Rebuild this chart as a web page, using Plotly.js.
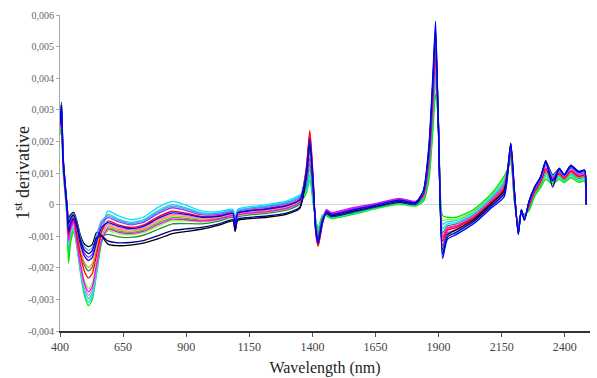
<!DOCTYPE html>
<html>
<head>
<meta charset="utf-8">
<script src="https://cdn.plot.ly/plotly-3.0.1.min.js"></script>
<style>html,body{margin:0;padding:0;background:#fff;}#chart{width:597px;height:378px;}</style>
</head>
<body>
<div id="chart"></div>
<script>
// wavelength grid (nm)
const wavelength = [400,406,412,420,428,434,442,454,466,480,
  496,513,528,545,565,590,630,680,730,790,
  845,900,960,1030,1085,1094,1104,1140,1220,1300,
  1350,1375,1390,1404,1414,1423,1440,1456,1475,1560,
  1660,1745,1808,1840,1862,1878,1888,1900,1916,1935,
  1970,2040,2110,2160,2186,2200,2216,2228,2240,2258,
  2280,2305,2325,2352,2378,2398,2424,2456,2478,2485];

// 1st derivative spectra
const s_blue = [2.53e-3,3.04e-3,1.43e-3,0.60e-3,-0.15e-3,-0.86e-3,-0.60e-3,-0.44e-3,-0.68e-3,-1.22e-3,
  -1.62e-3,-1.77e-3,-1.67e-3,-1.19e-3,-0.72e-3,-0.57e-3,-0.68e-3,-0.76e-3,-0.69e-3,-0.43e-3,
  -0.26e-3,-0.31e-3,-0.40e-3,-0.37e-3,-0.28e-3,-0.61e-3,-0.27e-3,-0.21e-3,-0.14e-3,-0.03e-3,
  0.15e-3,0.97e-3,2.09e-3,0.58e-3,-0.88e-3,-1.23e-3,-0.56e-3,-0.22e-3,-0.31e-3,-0.17e-3,
  0,0.14e-3,0.06e-3,0.45e-3,1.9e-3,4.2e-3,5.8e-3,2.2e-3,-1.7e-3,-1.1e-3,
  -0.95e-3,-0.60e-3,-0.10e-3,0.25e-3,1.89e-3,0.46e-3,-0.92e-3,-0.17e-3,-0.48e-3,0.07e-3,
  0.52e-3,0.87e-3,1.34e-3,0.75e-3,1.12e-3,0.93e-3,1.21e-3,1.02e-3,1.07e-3,0];
const s_navy = [2.62e-3,3.16e-3,1.52e-3,0.67e-3,-0.07e-3,-0.59e-3,-0.43e-3,-0.33e-3,-0.59e-3,-1.09e-3,
  -1.43e-3,-1.55e-3,-1.46e-3,-1.04e-3,-0.99e-3,-1.15e-3,-1.21e-3,-1.20e-3,-1.14e-3,-0.98e-3,
  -0.82e-3,-0.77e-3,-0.72e-3,-0.61e-3,-0.48e-3,-0.81e-3,-0.47e-3,-0.41e-3,-0.36e-3,-0.26e-3,
  -0.08e-3,0.89e-3,1.91e-3,0.50e-3,-0.83e-3,-1.17e-3,-0.53e-3,-0.26e-3,-0.35e-3,-0.21e-3,
  -0.04e-3,0.10e-3,0.03e-3,0.42e-3,1.79e-3,4.02e-3,5.57e-3,2.24e-3,-1.57e-3,-1.03e-3,
  -0.87e-3,-0.53e-3,-0.03e-3,0.35e-3,1.95e-3,0.5e-3,-0.95e-3,-0.15e-3,-0.5e-3,0.1e-3,
  0.55e-3,0.9e-3,1.4e-3,0.55e-3,1.15e-3,0.95e-3,1.25e-3,1.05e-3,1.1e-3,0];
const s_cyan = [2.38e-3,2.84e-3,1.28e-3,0.49e-3,-0.29e-3,-1.31e-3,-0.87e-3,-0.63e-3,-1.25e-3,-2.03e-3,
  -2.76e-3,-3.09e-3,-2.90e-3,-2.12e-3,-0.87e-3,-0.2e-3,-0.35e-3,-0.48e-3,-0.4e-3,-0.08e-3,
  0.1e-3,-0.02e-3,-0.2e-3,-0.22e-3,-0.15e-3,-0.48e-3,-0.15e-3,-0.08e-3,0,0.12e-3,
  0.3e-3,0.42e-3,0.95e-3,0.06e-3,-0.55e-3,-0.82e-3,-0.36e-3,-0.33e-3,-0.41e-3,-0.28e-3,
  -0.09e-3,0.04e-3,-0.02e-3,0.21e-3,1.13e-3,2.94e-3,4.19e-3,2.48e-3,-0.76e-3,-0.61e-3,
  -0.57e-3,-0.29e-3,0.22e-3,0.71e-3,1.50e-3,0.22e-3,-0.71e-3,-0.26e-3,-0.36e-3,-0.11e-3,
  0.34e-3,0.66e-3,0.98e-3,0.74e-3,0.91e-3,0.78e-3,0.97e-3,0.81e-3,0.86e-3,0];
const s_lime = [2.2e-3,2.6e-3,1.1e-3,0.35e-3,-0.45e-3,-1.85e-3,-1.2e-3,-0.85e-3,-1.3e-3,-2.1e-3,
  -2.85e-3,-3.2e-3,-3.0e-3,-2.2e-3,-1.2e-3,-0.73e-3,-0.83e-3,-0.88e-3,-0.81e-3,-0.58e-3,
  -0.41e-3,-0.44e-3,-0.49e-3,-0.44e-3,-0.34e-3,-0.67e-3,-0.33e-3,-0.27e-3,-0.2e-3,-0.09e-3,
  0.09e-3,0.34e-3,0.78e-3,-0.02e-3,-0.5e-3,-0.76e-3,-0.33e-3,-0.35e-3,-0.43e-3,-0.3e-3,
  -0.1e-3,0.02e-3,-0.04e-3,0.1e-3,0.8e-3,2.4e-3,3.5e-3,2.6e-3,-0.35e-3,-0.4e-3,
  -0.4e-3,-0.15e-3,0.35e-3,0.9e-3,1.3e-3,0.1e-3,-0.6e-3,-0.3e-3,-0.3e-3,-0.2e-3,
  0.25e-3,0.55e-3,0.8e-3,0.65e-3,0.8e-3,0.7e-3,0.85e-3,0.7e-3,0.75e-3,0];
const s_red = [2.5e-3,3.0e-3,1.4e-3,0.58e-3,-0.18e-3,-0.95e-3,-0.65e-3,-0.48e-3,-0.92e-3,-1.56e-3,
  -2.09e-3,-2.32e-3,-2.18e-3,-1.58e-3,-0.84e-3,-0.52e-3,-0.64e-3,-0.72e-3,-0.65e-3,-0.38e-3,
  -0.21e-3,-0.27e-3,-0.37e-3,-0.35e-3,-0.26e-3,-0.59e-3,-0.26e-3,-0.19e-3,-0.12e-3,-0.01e-3,
  0.17e-3,1.1e-3,2.35e-3,0.7e-3,-0.95e-3,-1.32e-3,-0.6e-3,-0.19e-3,-0.29e-3,-0.14e-3,
  0.02e-3,0.16e-3,0.07e-3,0.31e-3,1.46e-3,3.48e-3,4.88e-3,2.36e-3,-1.16e-3,-0.82e-3,
  -0.73e-3,-0.42e-3,0.08e-3,0.51e-3,1.63e-3,0.3e-3,-0.78e-3,-0.23e-3,-0.4e-3,-0.05e-3,
  0.4e-3,0.73e-3,1.1e-3,0.8e-3,0.98e-3,0.83e-3,1.05e-3,0.88e-3,0.93e-3,0];
const s_magenta = [2.44e-3,2.92e-3,1.34e-3,0.53e-3,-0.23e-3,-1.13e-3,-0.76e-3,-0.55e-3,-1.11e-3,-1.83e-3,
  -2.47e-3,-2.76e-3,-2.59e-3,-1.89e-3,-1.11e-3,-0.78e-3,-0.87e-3,-0.92e-3,-0.85e-3,-0.63e-3,
  -0.46e-3,-0.48e-3,-0.52e-3,-0.46e-3,-0.35e-3,-0.68e-3,-0.34e-3,-0.28e-3,-0.22e-3,-0.11e-3,
  0.07e-3,1.02e-3,2.18e-3,0.62e-3,-0.9e-3,-1.26e-3,-0.57e-3,-0.15e-3,-0.25e-3,-0.1e-3,
  0.05e-3,0.2e-3,0.1e-3,0.28e-3,1.35e-3,3.3e-3,4.65e-3,2.4e-3,-1.03e-3,-0.75e-3,
  -0.68e-3,-0.38e-3,0.13e-3,0.58e-3,1.69e-3,0.34e-3,-0.81e-3,-0.21e-3,-0.42e-3,-0.02e-3,
  0.43e-3,0.76e-3,1.16e-3,0.83e-3,1.01e-3,0.85e-3,1.09e-3,0.91e-3,0.96e-3,0];
const s_black = [2.68e-3,3.24e-3,1.58e-3,0.71e-3,-0.01e-3,-0.41e-3,-0.32e-3,-0.25e-3,-0.49e-3,-0.95e-3,
  -1.24e-3,-1.33e-3,-1.26e-3,-0.88e-3,-0.99e-3,-1.25e-3,-1.3e-3,-1.28e-3,-1.22e-3,-1.08e-3,
  -0.92e-3,-0.85e-3,-0.78e-3,-0.65e-3,-0.52e-3,-0.85e-3,-0.5e-3,-0.45e-3,-0.4e-3,-0.3e-3,
  -0.12e-3,0.85e-3,1.83e-3,0.46e-3,-0.8e-3,-1.13e-3,-0.51e-3,-0.28e-3,-0.37e-3,-0.23e-3,
  -0.05e-3,0.08e-3,0.01e-3,0.38e-3,1.68e-3,3.84e-3,5.34e-3,2.28e-3,-1.43e-3,-0.96e-3,
  -0.79e-3,-0.47e-3,0.04e-3,0.45e-3,1.92e-3,0.48e-3,-0.93e-3,-0.16e-3,-0.49e-3,0.09e-3,
  0.54e-3,0.88e-3,1.37e-3,0.94e-3,1.13e-3,0.94e-3,1.23e-3,1.03e-3,1.08e-3,0];
const s_darkgreen = [2.47e-3,2.96e-3,1.37e-3,0.55e-3,-0.2e-3,-1.04e-3,-0.71e-3,-0.51e-3,-0.83e-3,-1.43e-3,
  -1.9e-3,-2.1e-3,-1.98e-3,-1.43e-3,-1.02e-3,-0.94e-3,-1.02e-3,-1.04e-3,-0.97e-3,-0.78e-3,
  -0.61e-3,-0.6e-3,-0.61e-3,-0.52e-3,-0.41e-3,-0.74e-3,-0.4e-3,-0.34e-3,-0.28e-3,-0.17e-3,
  0.01e-3,0.59e-3,1.3e-3,0.22e-3,-0.65e-3,-0.95e-3,-0.42e-3,-0.3e-3,-0.39e-3,-0.25e-3,
  -0.07e-3,0.06e-3,0,0.24e-3,1.24e-3,3.12e-3,4.42e-3,2.44e-3,-0.89e-3,-0.68e-3,
  -0.62e-3,-0.33e-3,0.17e-3,0.64e-3,1.56e-3,0.26e-3,-0.74e-3,-0.24e-3,-0.38e-3,-0.08e-3,
  0.37e-3,0.69e-3,1.04e-3,0.77e-3,0.94e-3,0.8e-3,1.01e-3,0.84e-3,0.89e-3,0];
const s_orange = [2.56e-3,3.08e-3,1.46e-3,0.62e-3,-0.12e-3,-0.77e-3,-0.54e-3,-0.4e-3,-0.78e-3,-1.36e-3,
  -1.81e-3,-1.99e-3,-1.87e-3,-1.35e-3,-0.84e-3,-0.67e-3,-0.78e-3,-0.84e-3,-0.77e-3,-0.53e-3,
  -0.36e-3,-0.39e-3,-0.46e-3,-0.41e-3,-0.32e-3,-0.65e-3,-0.31e-3,-0.25e-3,-0.18e-3,-0.07e-3,
  0.11e-3,0.76e-3,1.65e-3,0.38e-3,-0.75e-3,-1.07e-3,-0.48e-3,-0.24e-3,-0.33e-3,-0.19e-3,
  -0.02e-3,0.12e-3,0.04e-3,0.29e-3,1.41e-3,3.39e-3,4.77e-3,2.38e-3,-1.09e-3,-0.79e-3,
  -0.68e-3,-0.38e-3,0.13e-3,0.58e-3,1.59e-3,0.28e-3,-0.76e-3,-0.23e-3,-0.39e-3,-0.07e-3,
  0.39e-3,0.71e-3,1.07e-3,0.79e-3,0.96e-3,0.81e-3,1.03e-3,0.86e-3,0.91e-3,0];
const s_purple = [2.59e-3,3.12e-3,1.49e-3,0.64e-3,-0.09e-3,-0.68e-3,-0.49e-3,-0.36e-3,-0.64e-3,-1.16e-3,
  -1.52e-3,-1.66e-3,-1.57e-3,-1.12e-3,-0.6e-3,-0.41e-3,-0.54e-3,-0.64e-3,-0.56e-3,-0.28e-3,
  -0.1e-3,-0.19e-3,-0.32e-3,-0.31e-3,-0.22e-3,-0.55e-3,-0.22e-3,-0.15e-3,-0.08e-3,0.04e-3,
  0.22e-3,0.68e-3,1.48e-3,0.3e-3,-0.7e-3,-1.01e-3,-0.45e-3,-0.17e-3,-0.27e-3,-0.12e-3,
  0.03e-3,0.18e-3,0.09e-3,0.35e-3,1.57e-3,3.66e-3,5.11e-3,2.32e-3,-1.3e-3,-0.89e-3,
  -0.81e-3,-0.49e-3,0.01e-3,0.41e-3,1.79e-3,0.4e-3,-0.86e-3,-0.19e-3,-0.45e-3,0.03e-3,
  0.48e-3,0.81e-3,1.25e-3,0.88e-3,1.06e-3,0.89e-3,1.15e-3,0.96e-3,1.01e-3,0];
const s_teal = [2.29e-3,2.72e-3,1.19e-3,0.42e-3,-0.37e-3,-1.58e-3,-1.04e-3,-0.74e-3,-1.21e-3,-1.97e-3,
  -2.66e-3,-2.98e-3,-2.8e-3,-2.05e-3,-0.9e-3,-0.31e-3,-0.45e-3,-0.56e-3,-0.48e-3,-0.18e-3,
  0,-0.1e-3,-0.26e-3,-0.26e-3,-0.19e-3,-0.52e-3,-0.19e-3,-0.12e-3,-0.04e-3,0.08e-3,
  0.26e-3,0.51e-3,1.13e-3,0.14e-3,-0.6e-3,-0.89e-3,-0.39e-3,-0.34e-3,-0.42e-3,-0.29e-3,
  -0.09e-3,0.03e-3,-0.03e-3,0.17e-3,1.02e-3,2.76e-3,3.96e-3,2.52e-3,-0.62e-3,-0.54e-3,
  -0.51e-3,-0.24e-3,0.26e-3,0.77e-3,1.43e-3,0.18e-3,-0.67e-3,-0.27e-3,-0.34e-3,-0.14e-3,
  0.31e-3,0.62e-3,0.92e-3,0.71e-3,0.87e-3,0.75e-3,0.93e-3,0.77e-3,0.82e-3,0];
const s_chartreuse = [2.26e-3,2.68e-3,1.16e-3,0.4e-3,-0.4e-3,-1.67e-3,-1.09e-3,-0.78e-3,-1.06e-3,-1.76e-3,
  -2.38e-3,-2.65e-3,-2.49e-3,-1.81e-3,-1.11e-3,-0.83e-3,-0.92e-3,-0.96e-3,-0.89e-3,-0.68e-3,
  -0.51e-3,-0.52e-3,-0.55e-3,-0.48e-3,-0.37e-3,-0.7e-3,-0.36e-3,-0.3e-3,-0.24e-3,-0.13e-3,
  0.05e-3,0.38e-3,0.86e-3,0.02e-3,-0.53e-3,-0.79e-3,-0.35e-3,-0.37e-3,-0.45e-3,-0.32e-3,
  -0.12e-3,0,-0.05e-3,0.14e-3,0.91e-3,2.58e-3,3.73e-3,2.56e-3,-0.49e-3,-0.47e-3,
  -0.46e-3,-0.2e-3,0.31e-3,0.84e-3,1.37e-3,0.14e-3,-0.64e-3,-0.29e-3,-0.32e-3,-0.17e-3,
  0.28e-3,0.59e-3,0.86e-3,0.68e-3,0.84e-3,0.73e-3,0.89e-3,0.74e-3,0.79e-3,0];
const s_pink = [2.41e-3,2.88e-3,1.31e-3,0.51e-3,-0.26e-3,-1.22e-3,-0.82e-3,-0.59e-3,-1.16e-3,-1.9e-3,
  -2.57e-3,-2.87e-3,-2.69e-3,-1.97e-3,-1.05e-3,-0.62e-3,-0.73e-3,-0.8e-3,-0.73e-3,-0.48e-3,
  -0.31e-3,-0.35e-3,-0.43e-3,-0.39e-3,-0.3e-3,-0.63e-3,-0.29e-3,-0.23e-3,-0.16e-3,-0.05e-3,
  0.13e-3,1.06e-3,2.26e-3,0.66e-3,-0.93e-3,-1.29e-3,-0.59e-3,-0.22e-3,-0.31e-3,-0.17e-3,
  0,0.14e-3,0.06e-3,0.26e-3,1.3e-3,3.21e-3,4.54e-3,2.42e-3,-0.96e-3,-0.72e-3,
  -0.65e-3,-0.35e-3,0.15e-3,0.61e-3,1.66e-3,0.32e-3,-0.79e-3,-0.22e-3,-0.41e-3,-0.04e-3,
  0.42e-3,0.74e-3,1.13e-3,0.82e-3,0.99e-3,0.84e-3,1.07e-3,0.89e-3,0.94e-3,0];
const s_lightblue = [2.65e-3,3.2e-3,1.55e-3,0.69e-3,-0.04e-3,-0.5e-3,-0.38e-3,-0.29e-3,-0.54e-3,-1.02e-3,
  -1.33e-3,-1.44e-3,-1.36e-3,-0.96e-3,-0.51e-3,-0.36e-3,-0.49e-3,-0.6e-3,-0.52e-3,-0.23e-3,
  -0.05e-3,-0.14e-3,-0.29e-3,-0.28e-3,-0.21e-3,-0.54e-3,-0.2e-3,-0.14e-3,-0.06e-3,0.06e-3,
  0.24e-3,0.93e-3,2.0e-3,0.54e-3,-0.85e-3,-1.2e-3,-0.54e-3,-0.26e-3,-0.35e-3,-0.21e-3,
  -0.04e-3,0.1e-3,0.03e-3,0.4e-3,1.74e-3,3.93e-3,5.46e-3,2.26e-3,-1.5e-3,-1.0e-3,
  -0.9e-3,-0.56e-3,-0.06e-3,0.32e-3,1.85e-3,0.44e-3,-0.9e-3,-0.17e-3,-0.47e-3,0.06e-3,
  0.51e-3,0.85e-3,1.31e-3,0.91e-3,1.1e-3,0.91e-3,1.19e-3,1.0e-3,1.05e-3,0];

// axis ticks
const xTickVals = [400,650,900,1150,1400,1650,1900,2150,2400];
const yTickVals = [-0.004,-0.003,-0.002,-0.001,0,0.001,0.002,0.003,0.004,0.005,0.006];
const yTickText = ['-0,004','-0,003','-0,002','-0,001','0','0,001','0,002','0,003','0,004','0,005','0,006'];

// draw order (bottom first) and colours
const seriesList = [s_chartreuse, s_teal, s_lime, s_cyan, s_darkgreen, s_orange, s_pink,
  s_magenta, s_red, s_purple, s_black, s_lightblue, s_navy, s_blue];
const lineColors = ['#7fff3f','#33cccc','#00e600','#00e5ff','#2e8b3a','#ff9933','#ff77c8',
  '#ff00ff','#ff0000','#9933ff','#000000','#3fa0ff','#00008b','#0000ff'];

const traces = seriesList.map((ys, i) => ({
  x: wavelength, y: ys, type: 'scatter', mode: 'lines',
  line: {color: lineColors[i], width: 1.3, shape: 'spline', smoothing: 0.6},
  hoverinfo: 'skip'
}));

const serif = '"Liberation Serif", "Times New Roman", serif';
const layout = {
  width: 597, height: 378,
  margin: {l: 60, r: 7, t: 15, b: 47},
  paper_bgcolor: '#ffffff', plot_bgcolor: '#ffffff',
  showlegend: false,
  font: {family: serif},
  xaxis: {
    range: [400, 2500], tickmode: 'array', tickvals: xTickVals,
    ticks: 'outside', ticklen: 4, tickcolor: '#555', tickwidth: 1,
    showline: true, linecolor: '#333', linewidth: 2,
    showgrid: false, zeroline: false,
    tickfont: {family: serif, size: 12, color: '#444'},
    title: {text: 'Wavelength (nm)', font: {family: serif, size: 16, color: '#222'}, standoff: 8}
  },
  yaxis: {
    range: [-0.004, 0.006], tickmode: 'array', tickvals: yTickVals, ticktext: yTickText,
    ticks: 'outside', ticklen: 3, tickcolor: '#aaa', tickwidth: 1,
    showline: true, linecolor: '#aaa', linewidth: 1,
    showgrid: false, zeroline: true, zerolinecolor: '#d6d6d6', zerolinewidth: 1,
    tickfont: {family: serif, size: 10, color: '#666'}
  },
  annotations: [{
    text: '1<sup>st</sup> derivative', textangle: -90,
    xref: 'paper', yref: 'paper', x: -0.072, y: 0.5, xanchor: 'center', yanchor: 'middle',
    showarrow: false, font: {family: serif, size: 18, color: '#222'}
  }]
};

Plotly.newPlot('chart', traces, layout, {displayModeBar: false, staticPlot: true});
</script>
</body>
</html>
